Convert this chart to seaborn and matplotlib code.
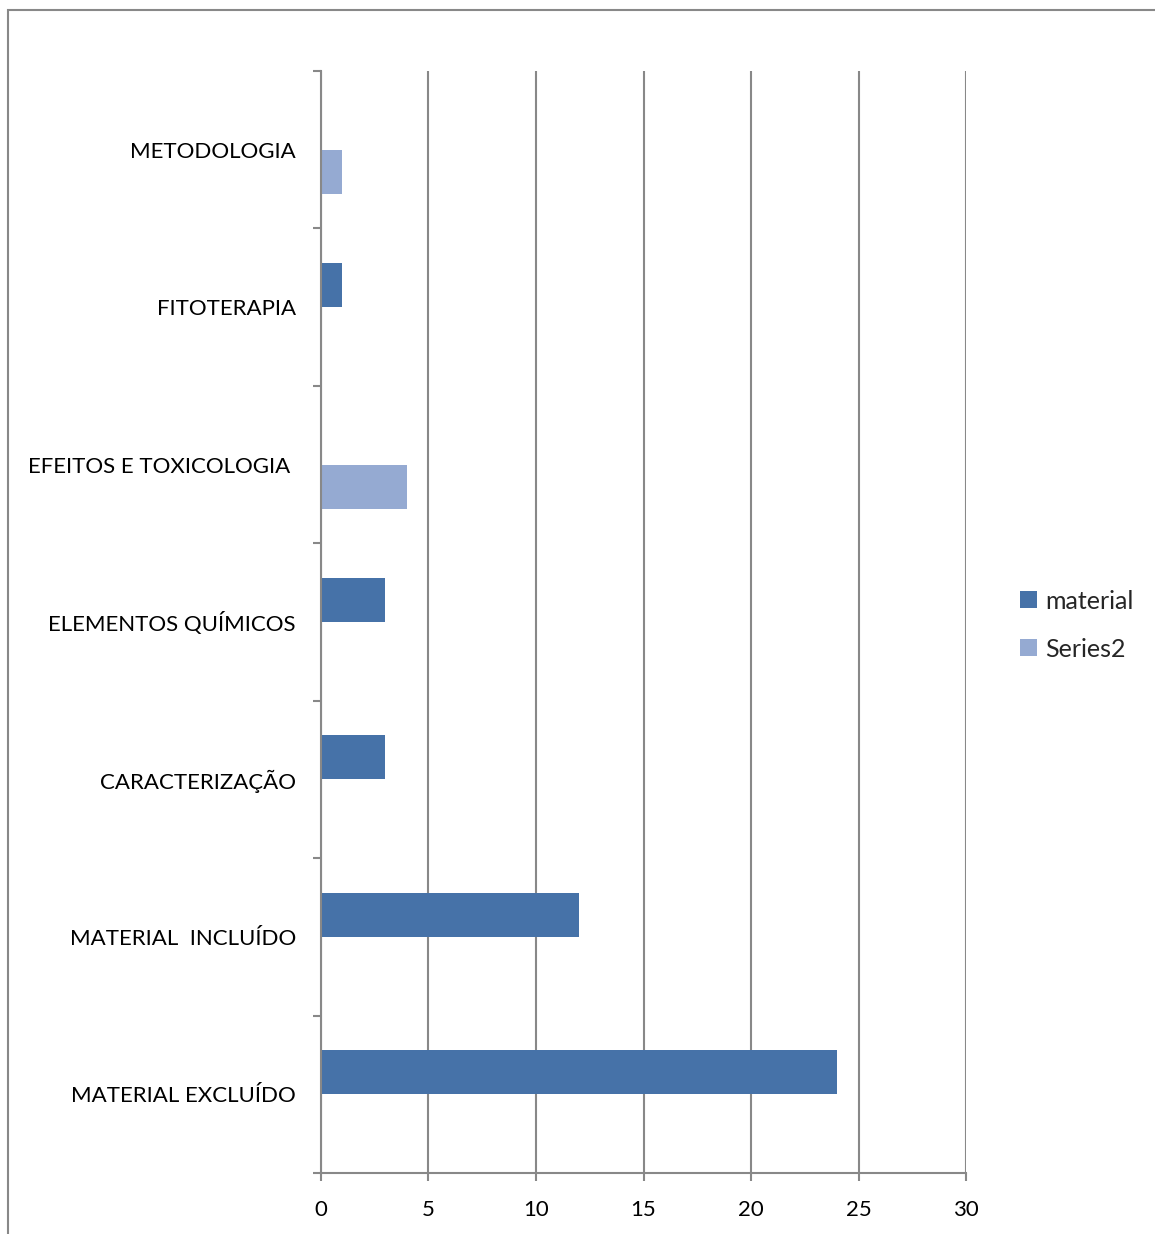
import pandas as pd
import numpy as np
import matplotlib
matplotlib.use("Agg")
import matplotlib.pyplot as plt
from matplotlib.patches import Rectangle
import seaborn as sns

# === DATA ===
categories = ["METODOLOGIA", "FITOTERAPIA", "EFEITOS E TOXICOLOGIA ", "ELEMENTOS QUÍMICOS",
              "CARACTERIZAÇÃO", "MATERIAL  INCLUÍDO", "MATERIAL EXCLUÍDO"]
material = [np.nan, 1, np.nan, 3, 3, 12, 24]
series2 = [1, np.nan, 4, np.nan, np.nan, np.nan, np.nan]
series_names = ["material", "Series2"]
xticks = [0, 5, 10, 15, 20, 25, 30]

df = pd.DataFrame({"categoria": categories * 2,
                   "valor": material + series2,
                   "serie": [series_names[0]] * len(categories) + [series_names[1]] * len(categories)})
df = df.dropna()

# === STYLE ===
sns.set_style("white")
plt.rcParams["font.family"] = ["Lato", "DejaVu Sans"]
GRAY = "#888888"
palette = {"material": "#4672A8", "Series2": "#95AAD2"}

fig = plt.figure(figsize=(11.55, 12.34), dpi=100)
ax = fig.add_axes([0.2779, 0.0494, 0.8364 - 0.2779, 0.9425 - 0.0494])

sns.barplot(data=df, y="categoria", x="valor", hue="serie", order=categories,
            hue_order=series_names, palette=palette, orient="h", width=0.56,
            dodge=True, saturation=1, ax=ax, errorbar=None, linewidth=0)

ax.set_xlim(0, 30)
ax.set_ylim(len(categories) - 0.5, -0.5)
ax.set_xticks(xticks)
ax.set_xticklabels([str(t) for t in xticks])
ax.xaxis.grid(True, color=GRAY, linewidth=1.5)
ax.set_axisbelow(True)
ax.set_xlabel("")
ax.set_ylabel("")

for s in ["top", "right"]:
    ax.spines[s].set_visible(False)
for s in ["left", "bottom"]:
    ax.spines[s].set_color(GRAY)
    ax.spines[s].set_linewidth(1.5)

ax.set_yticks(np.arange(len(categories)))
ax.set_yticklabels(categories)
ax.set_yticks(np.arange(-0.5, len(categories)), minor=True)
ax.tick_params(axis="y", which="major", length=0, pad=18, labelsize=16, labelcolor="black")
ax.tick_params(axis="y", which="minor", length=6, width=1.5, color=GRAY, direction="out", left=True)
ax.tick_params(axis="x", which="major", length=6, width=1.5, color=GRAY, direction="out",
               bottom=True, pad=13.5, labelsize=16, labelcolor="black")

# legend
handles, labels = ax.get_legend_handles_labels()
ax.get_legend().remove()
fig.legend(handles, labels, loc="center left", bbox_to_anchor=(0.864, 0.4935),
           frameon=False, fontsize=18, handlelength=0.65, handleheight=0.65,
           handletextpad=0.35, labelspacing=1.0)

# chart border
fig.patches.append(Rectangle((8 / 1155, -0.1), 1.2, 1 - 10 / 1234 + 0.1,
                             transform=fig.transFigure, fill=False,
                             edgecolor=GRAY, linewidth=1.5))

fig.savefig("out.png", dpi=100)
